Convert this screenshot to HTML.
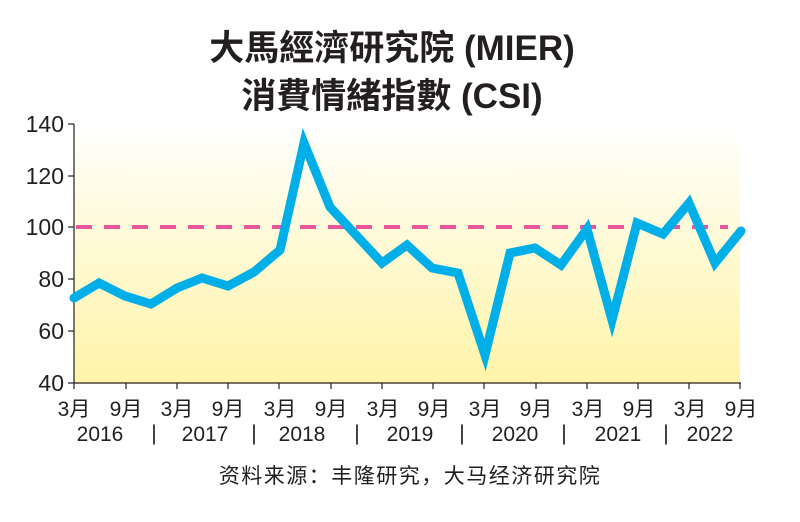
<!DOCTYPE html>
<html><head><meta charset="utf-8"><style>
body{margin:0;background:#fff;}
svg text{font-family:"Liberation Sans","Noto Sans CJK SC",sans-serif;fill:#231f20;}
</style></head><body>
<svg width="800" height="517" viewBox="0 0 800 517" xmlns="http://www.w3.org/2000/svg">
<defs><linearGradient id="g" x1="0" y1="0" x2="0" y2="1">
<stop offset="0" stop-color="#ffffff"/><stop offset="0.15" stop-color="#fffdf0"/><stop offset="1" stop-color="#fff4a8"/></linearGradient></defs>
<text x="392" y="60" font-size="35" font-weight="bold" text-anchor="middle">大馬經濟研究院 (MIER)</text>
<text x="392" y="108" font-size="35" font-weight="bold" text-anchor="middle">消費情緒指數 (CSI)</text>
<rect x="74" y="124" width="666" height="259" fill="url(#g)"/>
<line x1="74" y1="124" x2="74" y2="383" stroke="#231f20" stroke-width="1.2"/>
<line x1="74" y1="383" x2="741" y2="383" stroke="#231f20" stroke-width="1.2"/>
<g stroke="#231f20" stroke-width="1.2">
<line x1="68" y1="124" x2="74" y2="124"/><line x1="68" y1="176" x2="74" y2="176"/><line x1="68" y1="227" x2="74" y2="227"/><line x1="68" y1="279" x2="74" y2="279"/><line x1="68" y1="331" x2="74" y2="331"/><line x1="68" y1="383" x2="74" y2="383"/>
<line x1="74" y1="383" x2="74" y2="389"/><line x1="126" y1="383" x2="126" y2="389"/><line x1="177" y1="383" x2="177" y2="389"/><line x1="228" y1="383" x2="228" y2="389"/><line x1="279" y1="383" x2="279" y2="389"/><line x1="331" y1="383" x2="331" y2="389"/><line x1="382" y1="383" x2="382" y2="389"/><line x1="433" y1="383" x2="433" y2="389"/><line x1="484" y1="383" x2="484" y2="389"/><line x1="536" y1="383" x2="536" y2="389"/><line x1="587" y1="383" x2="587" y2="389"/><line x1="638" y1="383" x2="638" y2="389"/><line x1="689" y1="383" x2="689" y2="389"/><line x1="740" y1="383" x2="740" y2="389"/>
</g>
<g font-size="23" text-anchor="end">
<text x="64" y="132">140</text><text x="64" y="184">120</text><text x="64" y="235">100</text><text x="64" y="287">80</text><text x="64" y="339">60</text><text x="64" y="391">40</text>
</g>
<line x1="76" y1="227" x2="728" y2="227" stroke="#e8559b" stroke-width="4" stroke-dasharray="16,12"/>
<polyline fill="none" stroke="#00aee8" stroke-width="9" stroke-linejoin="miter" stroke-linecap="round"
points="74,298 99,283 125,296 151,304 177,288 202,278 228,286 254,272 280,250 304,143 330,207 356,235 382,263 407,245 432,268 458,273 485,355 510,253 535,248 561,265 587,229 612,320 637,223 663,234 689,203 715,263 741,231"/>
<g font-size="21" text-anchor="middle">
<text x="74" y="416">3月</text><text x="126" y="416">9月</text><text x="177" y="416">3月</text><text x="228" y="416">9月</text><text x="280" y="416">3月</text><text x="331" y="416">9月</text><text x="383" y="416">3月</text><text x="434" y="416">9月</text><text x="485" y="416">3月</text><text x="536" y="416">9月</text><text x="588" y="416">3月</text><text x="639" y="416">9月</text><text x="690" y="416">3月</text><text x="741" y="416">9月</text>
<text x="100" y="441">2016</text><text x="154" y="440">|</text><text x="205" y="441">2017</text><text x="254" y="440">|</text><text x="302" y="441">2018</text><text x="357" y="440">|</text><text x="410" y="441">2019</text><text x="462" y="440">|</text><text x="515" y="441">2020</text><text x="564" y="440">|</text><text x="618" y="441">2021</text><text x="666" y="440">|</text><text x="710" y="441">2022</text>
</g>
<text x="410" y="483" font-size="21" text-anchor="middle" letter-spacing="1.5">资料来源：丰隆研究，大马经济研究院</text>
</svg>
</body></html>
